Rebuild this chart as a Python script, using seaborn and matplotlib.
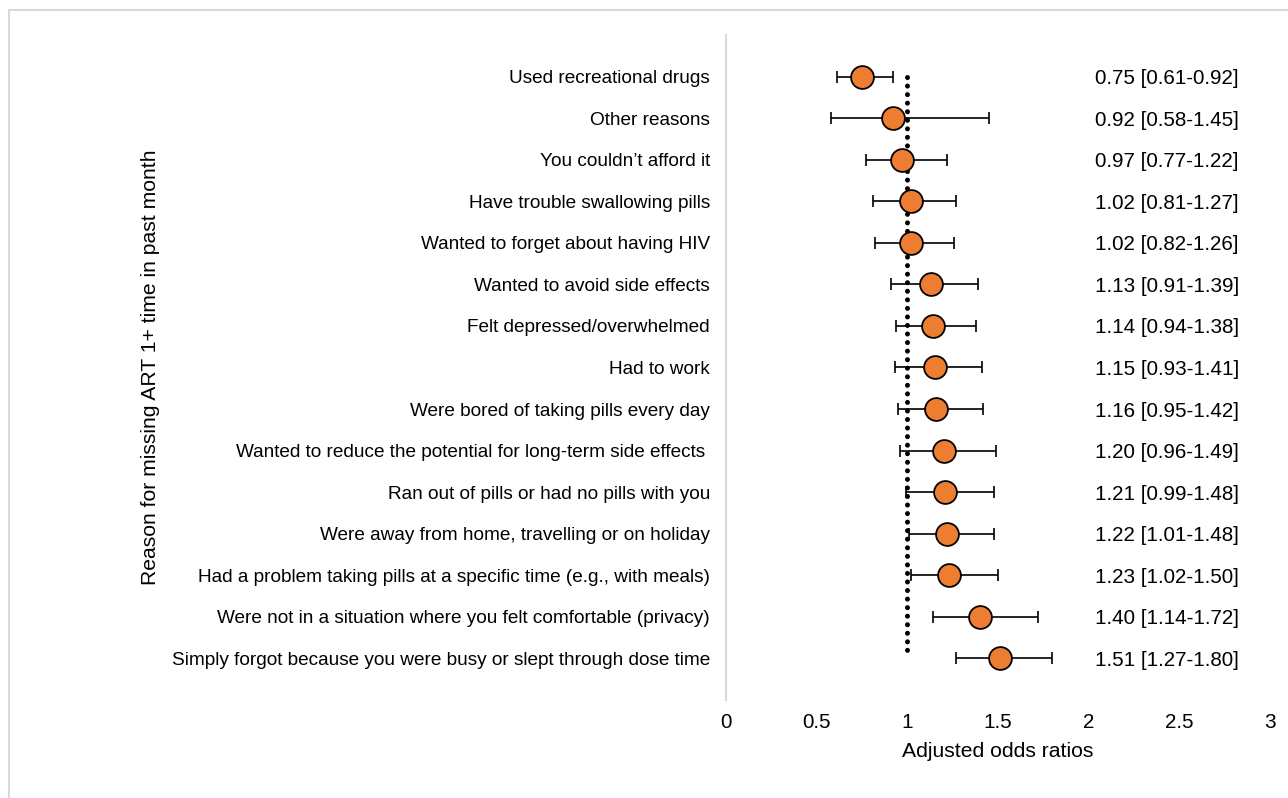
import matplotlib
matplotlib.use("Agg")
import matplotlib.pyplot as plt
from matplotlib.patches import Rectangle
import seaborn as sns
import pandas as pd

reasons = [
    "Used recreational drugs",
    "Other reasons",
    "You couldn\u2019t afford it",
    "Have trouble swallowing pills",
    "Wanted to forget about having HIV",
    "Wanted to avoid side effects",
    "Felt depressed/overwhelmed",
    "Had to work",
    "Were bored of taking pills every day",
    "Wanted to reduce the potential for long-term side effects ",
    "Ran out of pills or had no pills with you",
    "Were away from home, travelling or on holiday",
    "Had a problem taking pills at a specific time (e.g., with meals)",
    "Were not in a situation where you felt comfortable (privacy)",
    "Simply forgot because you were busy or slept through dose time",
]
odds_ratio = [0.75, 0.92, 0.97, 1.02, 1.02, 1.13, 1.14, 1.15, 1.16, 1.20, 1.21, 1.22, 1.23, 1.40, 1.51]
ci_low = [0.61, 0.58, 0.77, 0.81, 0.82, 0.91, 0.94, 0.93, 0.95, 0.96, 0.99, 1.01, 1.02, 1.14, 1.27]
ci_high = [0.92, 1.45, 1.22, 1.27, 1.26, 1.39, 1.38, 1.41, 1.42, 1.49, 1.48, 1.48, 1.50, 1.72, 1.80]
x_ticks = [0, 0.5, 1, 1.5, 2, 2.5, 3]
x_tick_labels = ["0", "0.5", "1", "1.5", "2", "2.5", "3"]

df = pd.DataFrame({"reason": reasons, "or": odds_ratio, "lo": ci_low, "hi": ci_high})

sns.set_theme(style="white")
plt.rcParams["font.family"] = ["Liberation Sans", "DejaVu Sans"]
FS = 14.9
FS_LAB = 13.7
FS_TITLE = 15.2

fig = plt.figure(figsize=(12.88, 7.98), dpi=100)
ax = fig.add_axes([726 / 1288, 1 - 700 / 798, 544 / 1288, 665 / 798])

# light frame around the figure
fig.patches.append(Rectangle((9 / 1288, -0.02), 1.1, 1 - 10 / 798 + 0.02,
                             transform=fig.transFigure, fill=False,
                             edgecolor="#d9d9d9", linewidth=1.5, zorder=0))

ypos = list(range(len(reasons)))

# reference line at OR = 1
ax.plot([1, 1], [0, len(reasons) - 1], color="black", linewidth=3.6,
        linestyle=(0, (0.01, 1.7)), dash_capstyle="round", zorder=1)

# confidence intervals
ax.errorbar(df["or"], ypos,
            xerr=[df["or"] - df["lo"], df["hi"] - df["or"]],
            fmt="none", ecolor="black", elinewidth=1.2, capsize=4.0,
            capthick=1.2, zorder=2)

# point estimates
sns.scatterplot(data=df, x="or", y="reason", ax=ax, s=270, color="#ED7D31",
                edgecolor="black", linewidth=1.3, zorder=3, legend=False)

# value annotations
for i, (o, lo, hi) in enumerate(zip(odds_ratio, ci_low, ci_high)):
    ax.text(2.035, i, f"{o:.2f} [{lo:.2f}-{hi:.2f}]", ha="left",
            va="center_baseline", fontsize=FS, color="black")

ax.set_xlim(0, 3)
ax.set_ylim(len(reasons), -1)
ax.set_xticks(x_ticks)
ax.set_xticklabels(x_tick_labels, fontsize=FS)
ax.set_yticks(ypos)
ax.set_yticklabels(reasons, fontsize=FS_LAB)
ax.tick_params(axis="both", length=0, colors="black")
ax.tick_params(axis="y", pad=11.5)
ax.tick_params(axis="x", pad=9)

for side in ["top", "right", "bottom"]:
    ax.spines[side].set_visible(False)
ax.spines["left"].set_color("#d9d9d9")
ax.spines["left"].set_linewidth(1.5)

ax.set_xlabel("Adjusted odds ratios", fontsize=FS_TITLE, color="black")
ax.set_ylabel("Reason for missing ART 1+ time in past month", fontsize=FS_TITLE, color="black")
ax.xaxis.set_label_coords(0.5, -0.063)
ax.xaxis.label.set_verticalalignment("top")
ax.yaxis.set_label_coords(-1.04, 0.5)

fig.savefig("out.png", dpi=100)
